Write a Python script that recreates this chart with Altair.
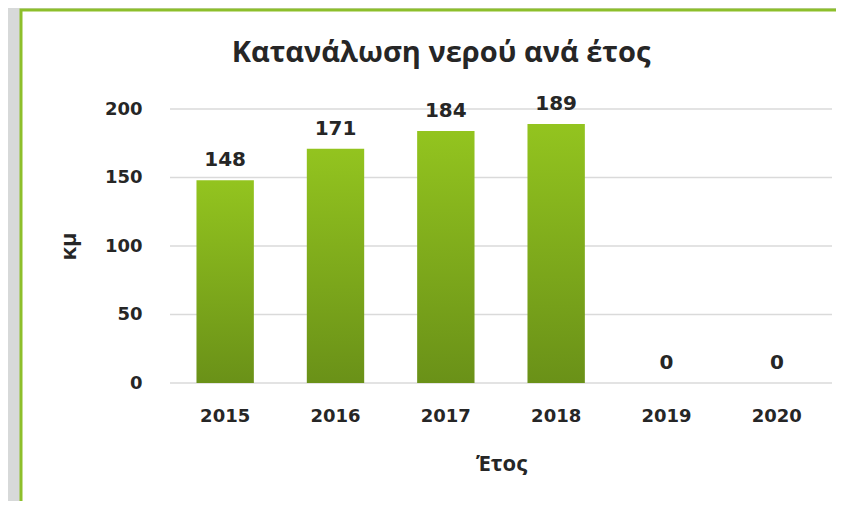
import altair as alt
import pandas as pd

# ---- data ----
years = ["2015", "2016", "2017", "2018", "2019", "2020"]
values = [148, 171, 184, 189, 0, 0]
y_ticks = [0, 50, 100, 150, 200]
title_text = "Κατανάλωση νερού ανά έτος"
x_title = "Έτος"
y_title = "κμ"

df = pd.DataFrame({"year": years, "value": values})
grid_df = pd.DataFrame({"value": y_ticks})
panel_df = pd.DataFrame({"p": [0]})

W, H = 662, 274
FONT = "Open Sans"
NUMFONT = "DejaVu Sans"
TXT = "#262626"

y_scale = alt.Scale(domain=[0, 200], nice=False)
x_scale = alt.Scale(domain=years, paddingInner=0.48, paddingOuter=0.24)

y_axis = alt.Axis(values=y_ticks, ticks=False, domain=False, grid=False,
                  labelFont=NUMFONT, labelFontSize=18, labelFontWeight="bold",
                  labelColor=TXT, labelPadding=28,
                  titleFont=FONT, titleFontSize=22, titleFontWeight="bold",
                  titleColor=TXT, titlePadding=24, zindex=1)

# white panel with green border (decorative frame)
panel = alt.Chart(panel_df).mark_rect(
    fill="white", stroke="#8dbf2b", strokeWidth=3
).encode(
    x=alt.value(-149), x2=alt.value(720),
    y=alt.value(-99), y2=alt.value(460)
)

grid = alt.Chart(grid_df).mark_rule(color="#dadada", strokeWidth=1.5).encode(
    y=alt.Y("value:Q", scale=y_scale, title=y_title, axis=y_axis),
    x=alt.value(0), x2=alt.value(W)
)

bar_grad = alt.Gradient(
    gradient="linear",
    stops=[alt.GradientStop(color="#93c41f", offset=0),
           alt.GradientStop(color="#6a9118", offset=1)],
    x1=0, x2=0, y1=0, y2=1,
)

x_enc = alt.X(
    "year:N", sort=years, title=x_title, scale=x_scale,
    axis=alt.Axis(labelAngle=0, ticks=False, domain=False, grid=False,
                  labelFont=NUMFONT, labelFontSize=18, labelFontWeight="bold",
                  labelColor=TXT, labelPadding=24,
                  titleFont=FONT, titleFontSize=22, titleFontWeight="bold",
                  titleColor=TXT, titlePadding=28, zindex=1),
)
y_enc = alt.Y("value:Q", scale=y_scale, title=y_title, axis=y_axis)

bars = alt.Chart(df).mark_bar(color=bar_grad).encode(x=x_enc, y=y_enc)

labels = alt.Chart(df).mark_text(
    baseline="alphabetic", dy=-14, font=NUMFONT, fontSize=20,
    fontWeight="bold", color=TXT
).encode(
    x=alt.X("year:N", sort=years, scale=x_scale),
    y=alt.Y("value:Q", scale=y_scale, title=y_title),
    text="value:Q",
)

chart = alt.layer(panel, grid, bars, labels).properties(
    width=W, height=H,
    title=alt.TitleParams(title_text, font=FONT, fontSize=29, fontWeight="bold",
                          color=TXT, anchor="middle", dx=-60, offset=-59, zindex=1),
    autosize=alt.AutoSizeParams(type="none"),
    padding={"left": 162, "top": 101, "right": 4, "bottom": 118},
    background="#d7d9d9",
).configure_view(stroke=None)

chart.save("out.html", embed_options={"renderer": "svg", "actions": False})
